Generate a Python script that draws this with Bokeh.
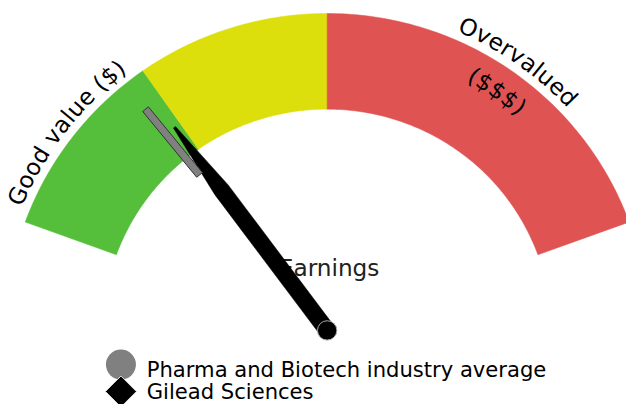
import math
from bokeh.plotting import figure
from bokeh.models import Range1d
from bokeh.core.properties import value
from bokeh.embed import file_html
from bokeh.resources import INLINE

# ---------------- data ----------------
gauge_title = "Earnings"
band_edges = [0, 10, 20, 40]                 # gauge scale: green / yellow / red
band_colors = ["#55BF3B", "#DDDF0D", "#DF5353"]
band_labels = [["Good value ($)"], [], ["Overvalued", "($$$)"]]
series_names = ["Pharma and Biotech industry average", "Gilead Sciences"]
series_values = [8.86, 9.56]
series_colors = ["#808080", "#000000"]

# ---------------- layout ----------------
W, H = 626, 404                 # figure size in screen pixels
REF_W, REF_H = 642.0, 420.0     # design space
SX, SY = W / REF_W, H / REF_H
CX, CY = 335.0, 343.0
R_OUT, R_IN = 329.5, 230.0
A_START, A_END = 160.0, 20.0
FONT = "DejaVu Sans"
K = (SX + SY) / 2               # font scale
TRACK = 1.04

# DejaVu Sans advance widths (units per em 2048)
ADV = {' ': 651, 'G': 1595, 'o': 1253, 'd': 1300, 'v': 1212, 'a': 1255, 'l': 569,
       'u': 1298, 'e': 1260, '(': 799, '$': 1303, ')': 799, 'O': 1612, 'r': 842}

vmin, vmax = band_edges[0], band_edges[-1]


def ang(v):
    return math.radians(A_START - (A_START - A_END) * (v - vmin) / (vmax - vmin))


def pt(a, r):
    return CX + r * math.cos(a), -CY + r * math.sin(a)


p = figure(width=W, height=H, x_range=Range1d(0, REF_W), y_range=Range1d(-REF_H, 0),
           toolbar_location=None, output_backend="svg", min_border=0,
           x_axis_location=None, y_axis_location=None, outline_line_color=None)
p.grid.visible = False
p.background_fill_color = "white"

# bands
bx, by = [], []
for lo, hi in zip(band_edges[:-1], band_edges[1:]):
    a1, a2 = ang(lo), ang(hi)
    n = 80
    outer = [a1 + (a2 - a1) * i / n for i in range(n + 1)]
    xs_ = [pt(a, R_OUT)[0] for a in outer] + [pt(a, R_IN)[0] for a in reversed(outer)]
    ys_ = [pt(a, R_OUT)[1] for a in outer] + [pt(a, R_IN)[1] for a in reversed(outer)]
    bx.append(xs_); by.append(ys_)
p.patches(bx, by, fill_color=band_colors, line_color=band_colors, line_width=0.5)

# curved band labels
FS = 24.0
LINE_R = [347.0, 305.0]
xs, ys, chars, angs = [], [], [], []
for lo, hi, lines in zip(band_edges[:-1], band_edges[1:], band_labels):
    ac = (ang(lo) + ang(hi)) / 2
    for li, line in enumerate(lines):
        R = LINE_R[li]
        widths = [ADV.get(c, 1200) / 2048 * FS * TRACK for c in line]
        total = sum(widths)
        a0 = ac + total / (2 * R)
        s = 0.0
        for c, w in zip(line, widths):
            a = a0 - (s + w / 2) / R
            s += w
            if c == ' ':
                continue
            x, y = pt(a, R)
            phi = math.atan2(SY * math.sin(a), SX * math.cos(a))
            xs.append(x); ys.append(y); chars.append(c); angs.append(phi - math.pi / 2)
p.text(x=xs, y=ys, text=chars, angle=angs, text_align="center", text_baseline="alphabetic",
       text_font=value(FONT), text_font_size=f"{FS * K:.1f}px", text_color="black")

# title
p.text(x=[CX + 2], y=[-278], text=[gauge_title], text_align="center", text_baseline="alphabetic",
       text_font=value(FONT), text_font_size=f"{24 * K:.1f}px", text_color="#222222")


def poly(a, pts):
    xs_, ys_ = [], []
    for al, pe in pts:
        xs_.append(CX + al * math.cos(a) - pe * math.sin(a))
        ys_.append(-CY + al * math.sin(a) + pe * math.cos(a))
    return xs_, ys_


# company needle
a_c = ang(series_values[1])
nx, ny = poly(a_c, [(0, -8.5), (182, -8.5), (263, -1.3), (263, 1.3), (182, 8.5), (0, 8.5)])
p.patch(nx, ny, fill_color=series_colors[1], line_color=series_colors[1], line_width=0.5)

# industry average marker
a_i = ang(series_values[0])
mx, my = poly(a_i, [(208, -3.8), (296, -3.8), (296, 3.8), (208, 3.8)])
p.patch(mx, my, fill_color=series_colors[0], line_color="#333333", line_width=1)

# pivot
p.scatter(x=[CX], y=[-CY], size=20 * K, marker="circle", fill_color="black",
          line_color="#aaaaaa", line_width=1)

# legend
LX, LY = 123.5, [378.5, 406.5]
p.scatter(x=[LX], y=[-LY[0]], size=31 * K, marker="circle", fill_color=series_colors[0], line_color=None)
p.scatter(x=[LX], y=[-LY[1]], size=22.6 * K, marker="square", angle=math.pi / 4,
          fill_color=series_colors[1], line_color="#dddddd", line_width=1)
p.text(x=[150, 150], y=[-383.5, -407.0], text=series_names, text_align="left", text_baseline="alphabetic",
       text_font=value(FONT), text_font_size=f"{21.8 * K:.1f}px", text_color="black")

open("out.html", "w").write(file_html(p, INLINE))
